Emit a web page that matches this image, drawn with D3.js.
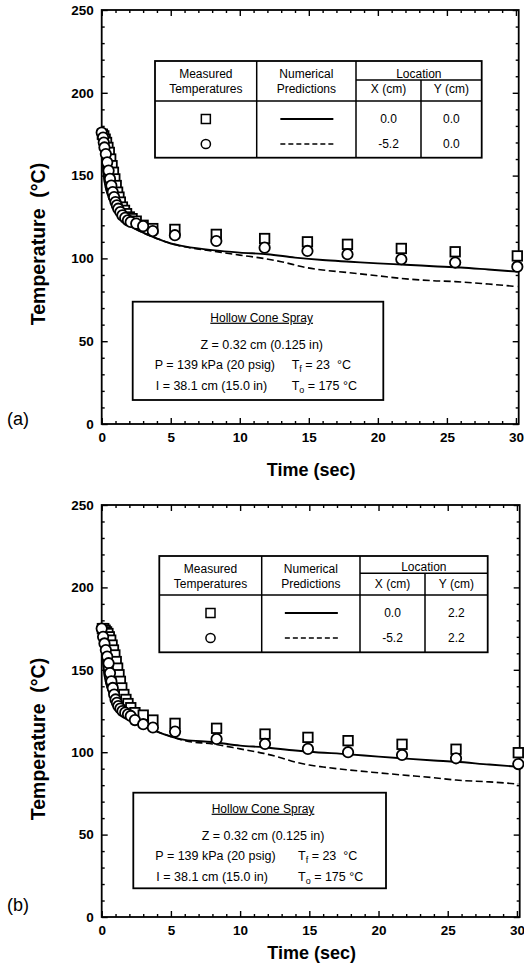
<!DOCTYPE html>
<html><head><meta charset="utf-8">
<script src="https://cdn.jsdelivr.net/npm/d3@7"></script>
<style>
body{margin:0;background:#fff}
svg text{font-family:"Liberation Sans",Arial,Helvetica,sans-serif;fill:#000}
</style></head><body>
<svg id="c" width="524" height="972"></svg>
<script>
// ---------- data ----------
const xTicks = [0,5,10,15,20,25,30];
const yTicks = [0,50,100,150,200,250];
const xTitle = "Time (sec)";
const yTitle = "Temperature  (\u00B0C)";
const panelLabels = ["(a)","(b)"];
const headers = ["Measured","Temperatures","Numerical","Predictions","Location","X (cm)","Y (cm)"];
const locA = [["0.0","0.0"],["-5.2","0.0"]];
const locB = [["0.0","2.2"],["-5.2","2.2"]];
const boxTitle = "Hollow Cone Spray";
const boxZ = "Z = 0.32 cm (0.125 in)";
const boxP = "P = 139 kPa (20 psig)";
const boxI = "I = 38.1 cm (15.0 in)";
const boxTf = ["T","f"," = 23  \u00B0C"];
const boxTo = ["T","o"," = 175 \u00B0C"];

// Panel (a) : X=0.0 squares, X=-5.2 circles
const tA_sq = [0.05,0.15,0.25,0.35,0.45,0.55,0.65,0.75,0.85,0.95,1.05,1.15,1.25,1.35,1.5,1.65,1.8,2.0,2.2,2.5,3.0,3.7,5.3,8.3,11.8,14.9,17.8,21.7,25.6,30.1];
const vA_sq = [175,174,172,170,167,164,160,156,152,148,144,140,137,134,131,129,127,125,124,122.5,120,118,117.5,114.5,112,110,108.5,106,104,101.5];
const tA_ci = [0,0.1,0.15,0.2,0.3,0.4,0.5,0.6,0.7,0.8,0.9,1.0,1.1,1.2,1.35,1.5,1.7,1.9,2.1,2.5,3.0,3.7,5.3,8.3,11.8,14.9,17.8,21.7,25.6,30.1];
const vA_ci = [176,173,170,167,163,158,153,148,144,140,137,134,132,130,128,126,124.5,123,122,121,119.5,116.5,114,110.5,106.5,104.5,102.5,99.5,97.5,95];
const tA_solid = [0,0.05,0.1,0.2,0.35,0.5,0.75,1.0,1.5,2.0,2.5,3,4,5,6,8,10,12,14,16,18,20,22,24,26,28,30.1];
const vA_solid = [175,165,156,147,141,137,133,130,125.5,120,117.5,115.5,112,109,107.3,105,103.5,102.5,100.5,99,98,97,96.2,95.3,94.5,93.3,92];
const tA_dash = [0,0.05,0.1,0.2,0.35,0.5,0.75,1.0,1.5,2.0,2.5,3,4,5,6,8,10,11.7,13,14.8,16,17.75,20,21.6,24,25.6,28,30.1];
const vA_dash = [175,165,156,147,141,137,133,130,125.5,120,117.5,115.5,112,109,107,104.5,102,100,98,94.5,93,91.5,89.5,88,86.5,86,84.5,83];

// Panel (b)
const tB_sq = [0.05,0.15,0.25,0.35,0.45,0.55,0.65,0.75,0.85,0.95,1.05,1.15,1.25,1.35,1.45,1.6,1.75,1.9,2.1,2.4,3.0,3.7,5.3,8.3,11.8,14.9,17.8,21.7,25.6,30.1];
const vB_sq = [175,175,174,173,172,170,168,165,162,159,155,151,147,143,139,135,132,129.5,127,124,122.5,119.5,117.5,114.5,111,109,107,104.8,101.8,99.7];
const tB_ci = [0,0.1,0.2,0.3,0.4,0.5,0.6,0.7,0.8,0.9,1.0,1.1,1.2,1.35,1.5,1.7,1.9,2.1,2.4,3.0,3.7,5.3,8.3,11.8,14.9,17.8,21.7,25.6,30.1];
const vB_ci = [175,170,166,162,158,154,148,143,139,135,132,130,128,126.5,125,124,123,122,119.5,117,115,112.5,108,105,102,100,98.3,96.3,92.8];
const tB_solid = [0,0.05,0.1,0.2,0.35,0.5,0.75,1.0,1.5,2.0,2.5,3,4,5,6,8,10,11.7,14,15,17.9,20,21.7,24,25.6,28,30.1];
const vB_solid = [175,165,156,147,141,137,133,130,125.5,121.5,118.5,116.5,112.5,109.5,107.5,106.2,104,103,101,100.3,98.7,97.3,96.3,95,94.2,92.5,91.2];
const tB_dash = [0,0.05,0.1,0.2,0.35,0.5,0.75,1.0,1.5,2.0,2.5,3,4,5,6,8,10,11.7,13,14,15,16,17.9,20,21.7,24,25.6,28,30.1];
const vB_dash = [175,165,156,147,141,137,133,130,125.5,121.5,118.5,116.5,112.5,109.5,107,105,102,99.3,96.5,94,92.2,91,89.2,87.5,86.2,84.5,83.1,82,80.7];

// ---------- drawing ----------
const svg = d3.select("#c");
const zip = (t,v) => t.map((d,i)=>({t:d,v:v[i]}));

function drawPanel(cfg){
  const W = cfg.w, H = cfg.h;
  const g = svg.append("g").attr("transform",`translate(${cfg.left},${cfg.top})`);
  const x = d3.scaleLinear().domain([0,30.2]).range([0,W]);
  const y = d3.scaleLinear().domain([0,250]).range([H,0]);
  const minorX = d3.range(0,31,1).filter(v=>v%5);
  const minorY = d3.range(0,251,10).filter(v=>v%50);

  function styleAx(sel){ sel.select(".domain").remove(); sel.selectAll("line").attr("stroke","#000").attr("stroke-width",1.4); }
  g.append("g").attr("transform",`translate(0,${H})`)
    .call(d3.axisBottom(x).tickValues(xTicks).tickSize(-6).tickPadding(8).tickFormat(d3.format("d")))
    .call(styleAx).call(s=>s.selectAll("text").attr("font-size",13.5).attr("font-weight","bold").attr("fill","#000"));
  g.append("g").attr("transform",`translate(0,${H})`)
    .call(d3.axisBottom(x).tickValues(minorX).tickSize(-3).tickFormat(""))
    .call(styleAx);
  g.append("g").call(d3.axisTop(x).tickValues(xTicks).tickSize(-6).tickFormat("")).call(styleAx);
  g.append("g").call(d3.axisTop(x).tickValues(minorX).tickSize(-3).tickFormat("")).call(styleAx);
  g.append("g")
    .call(d3.axisLeft(y).tickValues(yTicks).tickSize(-6).tickPadding(8).tickFormat(d3.format("d")))
    .call(styleAx).call(s=>s.selectAll("text").attr("font-size",13.5).attr("font-weight","bold").attr("fill","#000"));
  g.append("g").call(d3.axisLeft(y).tickValues(minorY).tickSize(-3).tickFormat("")).call(styleAx);
  g.append("g").attr("transform",`translate(${W},0)`)
    .call(d3.axisRight(y).tickValues(yTicks).tickSize(-6).tickFormat("")).call(styleAx);
  g.append("g").attr("transform",`translate(${W},0)`)
    .call(d3.axisRight(y).tickValues(minorY).tickSize(-3).tickFormat("")).call(styleAx);
  g.append("rect").attr("width",W).attr("height",H).attr("fill","none").attr("stroke","#000").attr("stroke-width",1.8);

  const line = d3.line().x(d=>x(d.t)).y(d=>y(d.v)).curve(d3.curveMonotoneX);
  g.append("path").datum(zip(cfg.tDash,cfg.vDash)).attr("d",line)
    .attr("fill","none").attr("stroke","#000").attr("stroke-width",1.6).attr("stroke-dasharray","7,3.5");
  g.append("path").datum(zip(cfg.tSolid,cfg.vSolid)).attr("d",line)
    .attr("fill","none").attr("stroke","#000").attr("stroke-width",1.9);

  const S = 9.5;
  g.append("g").selectAll("rect").data(zip(cfg.tSq,cfg.vSq)).join("rect")
    .attr("x",d=>x(d.t)-S/2).attr("y",d=>y(d.v)-S/2).attr("width",S).attr("height",S)
    .attr("fill","#fff").attr("stroke","#000").attr("stroke-width",1.8);
  g.append("g").selectAll("circle").data(zip(cfg.tCi,cfg.vCi)).join("circle")
    .attr("cx",d=>x(d.t)).attr("cy",d=>y(d.v)).attr("r",5.2)
    .attr("fill","#fff").attr("stroke","#000").attr("stroke-width",1.8);

  svg.append("text").attr("x",cfg.left+W/2+1).attr("y",cfg.xTitleY).attr("text-anchor","middle")
    .attr("font-size",18).attr("font-weight","bold").text(xTitle);
  svg.append("text").attr("transform",`translate(45,${cfg.yTitleC}) rotate(-90)`).attr("text-anchor","middle")
    .attr("font-size",19.5).attr("font-weight","bold").style("white-space","pre").text(yTitle);
  svg.append("text").attr("x",7).attr("y",cfg.labelY).attr("font-size",18).text(cfg.label);

  const T = cfg.table;
  const tg = svg.append("g");
  const ln = (x1,y1,x2,y2)=>tg.append("line").attr("x1",x1).attr("y1",y1).attr("x2",x2).attr("y2",y2).attr("stroke","#000").attr("stroke-width",1.5);
  tg.append("rect").attr("x",T.c[0]).attr("y",T.top).attr("width",T.c[4]-T.c[0]).attr("height",T.bot-T.top)
    .attr("fill","#fff").attr("stroke","#000").attr("stroke-width",1.8);
  ln(T.c[0],T.head,T.c[4],T.head);
  ln(T.c[1],T.top,T.c[1],T.bot);
  ln(T.c[2],T.top,T.c[2],T.bot);
  ln(T.c[3],T.sub,T.c[3],T.bot);
  ln(T.c[2],T.sub,T.c[4],T.sub);
  const tt = (xx,yy,s)=>tg.append("text").attr("x",xx).attr("y",yy).attr("text-anchor","middle").attr("font-size",12).text(s);
  const m0=(T.c[0]+T.c[1])/2, m1=(T.c[1]+T.c[2])/2, m2=(T.c[2]+T.c[3])/2, m3=(T.c[3]+T.c[4])/2, mL=(T.c[2]+T.c[4])/2;
  tt(m0,T.top+17,headers[0]); tt(m0,T.top+32,headers[1]);
  tt(m1,T.top+17,headers[2]); tt(m1,T.top+32,headers[3]);
  tt(mL,T.sub-2,headers[4]);
  tt(m2,T.top+32,headers[5]); tt(m3,T.top+32,headers[6]);
  const r1 = T.head+18, r2 = T.head+43;
  tg.append("rect").attr("x",m0-4.5).attr("y",r1-4.5).attr("width",9).attr("height",9).attr("fill","#fff").attr("stroke","#000").attr("stroke-width",1.5);
  tg.append("circle").attr("cx",m0).attr("cy",r2).attr("r",4.6).attr("fill","#fff").attr("stroke","#000").attr("stroke-width",1.5);
  ln(m1-26,r1,m1+27,r1).attr("stroke-width",1.8);
  ln(m1-26,r2,m1+27,r2).attr("stroke-dasharray","5,3");
  cfg.loc.forEach((row,i)=>{
    const yy = (i?r2:r1)+4;
    tt(m2,yy,row[0]); tt(m3,yy,row[1]);
  });

  const B = cfg.box;
  const bg = svg.append("g");
  bg.append("rect").attr("x",B.l).attr("y",B.t).attr("width",B.r-B.l).attr("height",B.b-B.t)
    .attr("fill","#fff").attr("stroke","#000").attr("stroke-width",1.8);
  const bc = B.cx;
  bg.append("text").attr("x",bc).attr("y",B.t+20).attr("text-anchor","middle").attr("font-size",12)
    .attr("text-decoration","underline").text(boxTitle);
  bg.append("text").attr("x",bc).attr("y",B.t+47).attr("text-anchor","middle").attr("font-size",12.5).text(boxZ);
  bg.append("text").attr("x",B.l+22).attr("y",B.t+67).attr("font-size",12.5).text(boxP);
  bg.append("text").attr("x",B.l+23).attr("y",B.t+88).attr("font-size",12.5).text(boxI);
  const sub = (yy,arr)=>{
    const t = bg.append("text").attr("x",B.tx).attr("y",yy).attr("font-size",12.5).style("white-space","pre");
    t.append("tspan").text(arr[0]);
    t.append("tspan").attr("font-size",9).attr("dy",3).text(arr[1]);
    t.append("tspan").attr("dy",-3).text(arr[2]);
  };
  sub(B.t+67,boxTf);
  sub(B.t+88,boxTo);
}

drawPanel({left:101.7,top:10,w:417,h:414,label:panelLabels[0],labelY:425,xTitleY:476,yTitleC:244,
  tSq:tA_sq,vSq:vA_sq,tCi:tA_ci,vCi:vA_ci,tSolid:tA_solid,vSolid:vA_solid,tDash:tA_dash,vDash:vA_dash,
  table:{c:[155,256.7,356,421,481.7],top:61,sub:80,head:101,bot:157.7},loc:locA,
  box:{l:132.7,r:383.3,t:301.7,b:400,cx:261.7,tx:291.7}});
drawPanel({left:101.7,top:505,w:418,h:412,label:panelLabels[1],labelY:911,xTitleY:959,yTitleC:739,
  tSq:tB_sq,vSq:vB_sq,tCi:tB_ci,vCi:vB_ci,tSolid:tB_solid,vSolid:vB_solid,tDash:tB_dash,vDash:vB_dash,
  table:{c:[159.3,261.7,360,425,487.7],top:556,sub:573.3,head:595,bot:652.3},loc:locB,
  box:{l:133.3,r:386,t:792.7,b:888.3,cx:263,tx:298}});
</script>
</body></html>
